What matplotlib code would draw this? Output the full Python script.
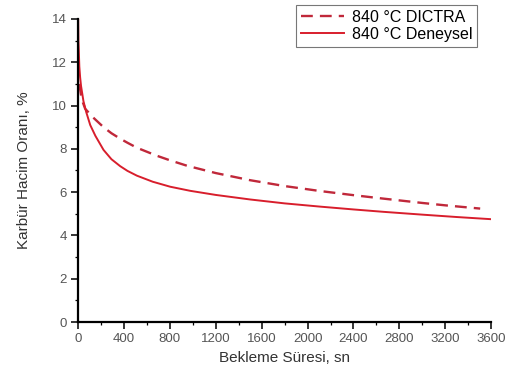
import matplotlib
matplotlib.use('Agg')
import matplotlib.pyplot as plt
from matplotlib.ticker import MultipleLocator

plt.rcParams['font.family'] = ['Liberation Sans', 'DejaVu Sans']

# Deneysel (solid)
t_deney = [0, 2, 5, 10, 17, 25, 46, 70, 105, 150, 221, 290, 366, 430, 512, 650, 802, 977,
           1200, 1500, 1800, 2110, 2400, 2661, 3000, 3300, 3600]
v_deney = [14.0, 13.0, 12.6, 11.8, 11.3, 10.9, 10.2, 9.7, 9.1, 8.6, 7.95, 7.52, 7.2, 6.98, 6.76,
           6.48, 6.25, 6.06, 5.87, 5.66, 5.48, 5.33, 5.2, 5.09, 4.96, 4.85, 4.75]

# DICTRA (dashed)
t_dictra = [10, 30, 61, 130, 221, 290, 366, 430, 512, 686, 800, 948, 1200, 1500, 1800,
            2110, 2400, 2661, 3000, 3200, 3505]
v_dictra = [11.0, 10.3, 9.85, 9.45, 9.0, 8.72, 8.47, 8.28, 8.05, 7.68, 7.47, 7.22, 6.88, 6.55,
            6.28, 6.05, 5.86, 5.7, 5.5, 5.39, 5.24]

fig = plt.figure(figsize=(5.11, 3.76), dpi=100)
ax = fig.add_axes([0.153, 0.1436, 0.808, 0.806])

ax.plot(t_dictra, v_dictra, color='#c0283a', lw=1.7, ls=(0, (5, 3)), label='840 °C DICTRA')
ax.plot(t_deney, v_deney, color='#d81e2c', lw=1.4, label='840 °C Deneysel')

ax.set_xlim(0, 3600)
ax.set_ylim(0, 14)
ax.xaxis.set_major_locator(MultipleLocator(400))
ax.xaxis.set_minor_locator(MultipleLocator(200))
ax.yaxis.set_major_locator(MultipleLocator(2))
ax.yaxis.set_minor_locator(MultipleLocator(1))

for s in ['top', 'right']:
    ax.spines[s].set_visible(False)
for s in ['left', 'bottom']:
    ax.spines[s].set_linewidth(1.6)

ax.tick_params(which='major', direction='out', length=5, width=1.1, labelsize=9.5,
               labelcolor='#555555', pad=3)
ax.tick_params(which='minor', direction='out', length=2.5, width=0.9)

ax.set_xlabel('Bekleme Süresi, sn', fontsize=11, color='#333333', labelpad=4)
ax.set_ylabel('Karbür Hacim Oranı, %', fontsize=11, color='#333333', labelpad=15)

leg = ax.legend(loc='upper right', bbox_to_anchor=(0.966, 1.046), fontsize=11.5, frameon=True,
                fancybox=False, handlelength=2.7, handletextpad=0.5, borderpad=0.3,
                labelspacing=0.12, borderaxespad=0)
leg.get_frame().set_edgecolor('#555555')
leg.get_frame().set_linewidth(0.8)

fig.savefig('out.png', dpi=100)
